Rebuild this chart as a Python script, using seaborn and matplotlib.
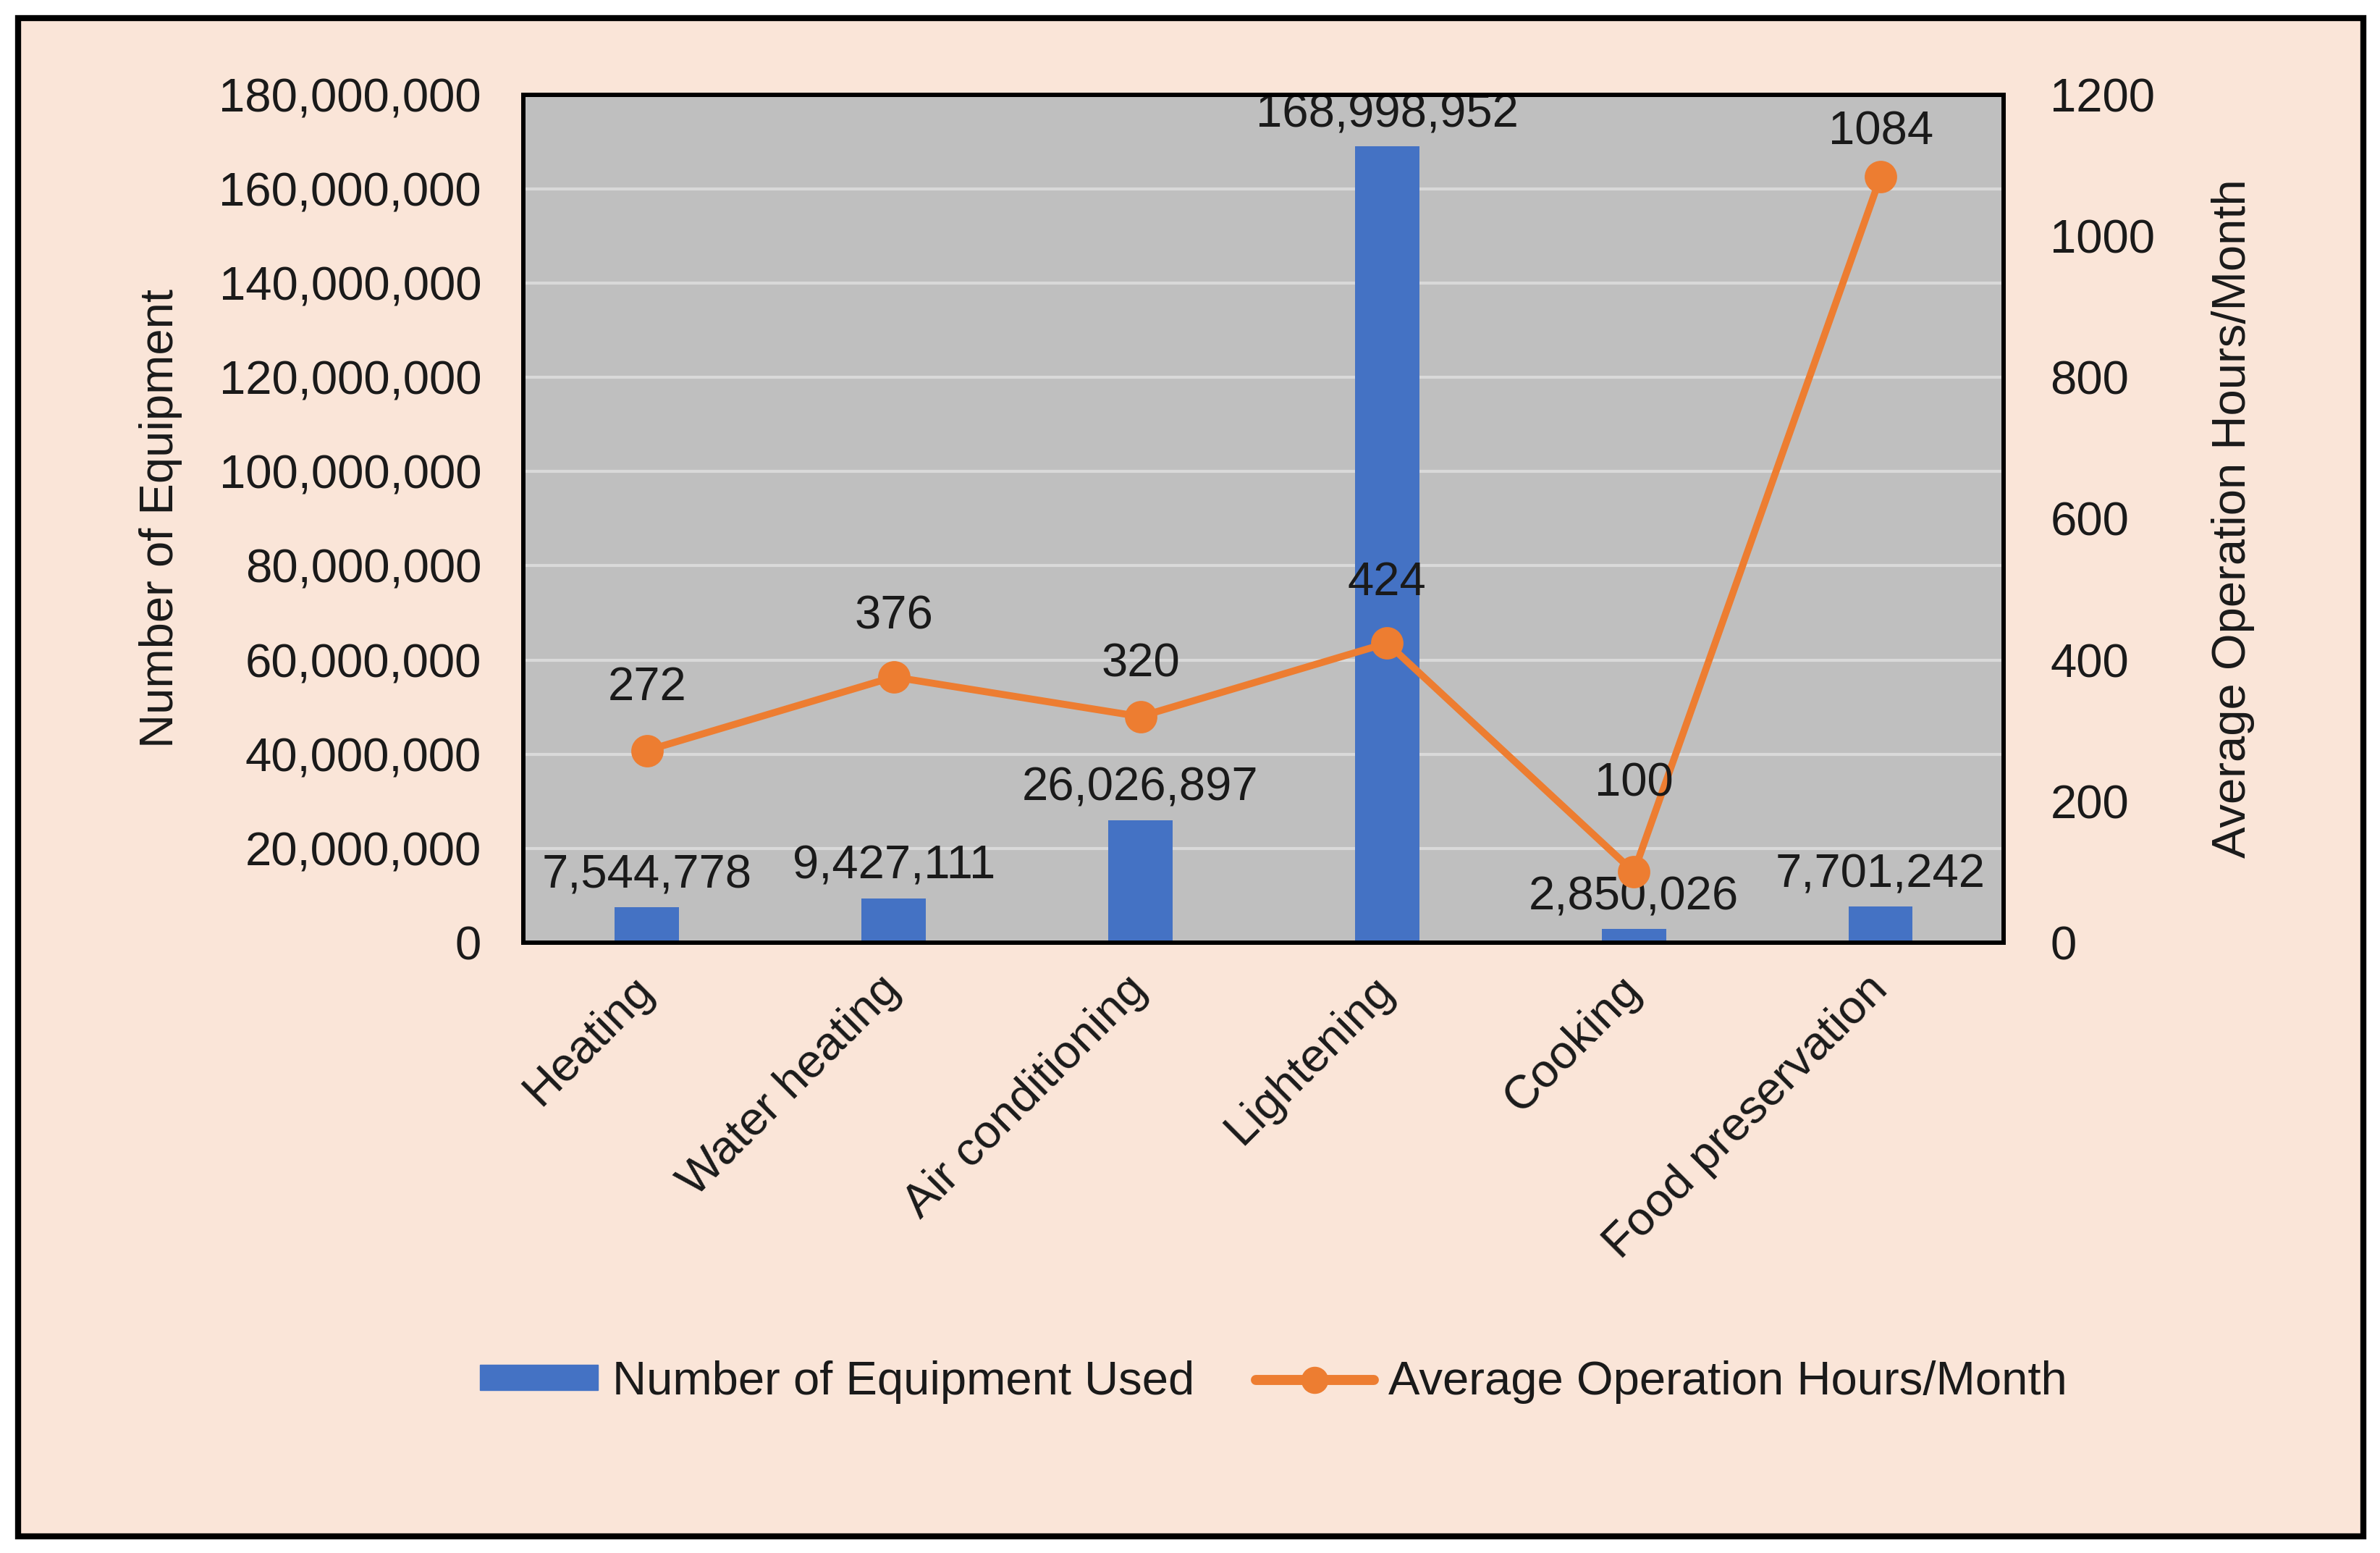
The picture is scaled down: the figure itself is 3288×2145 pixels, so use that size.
import pandas as pd
import seaborn as sns
import matplotlib.pyplot as plt
from matplotlib.patches import Patch, Rectangle
from matplotlib.lines import Line2D
from matplotlib.ticker import MultipleLocator, StrMethodFormatter

# DATA ----------------------------------------------------------------------------
categories = ["Heating", "Water heating", "Air conditioning", "Lightening",
              "Cooking", "Food preservation"]
equipment_used = [7544778, 9427111, 26026897, 168998952, 2850026, 7701242]
operation_hours = [272, 376, 320, 424, 100, 1084]

df = pd.DataFrame({"category": categories,
                   "equipment": equipment_used,
                   "hours": operation_hours})

# STYLE ---------------------------------------------------------------------------
sns.set_style("white")
plt.rcParams['font.family'] = ['Liberation Sans', 'DejaVu Sans']

BLUE = "#4472C4"
ORANGE = "#ED7D31"
PEACH = "#FAE5D8"
PLOT_BG = "#BFBFBF"
GRID = "#D9D9D9"
TXT = "#1A1A1A"
FS = 47

# offsets (points) of the hour labels above the points
label_offsets = [62, 60, 52, 60, 88, 44]

# FIGURE --------------------------------------------------------------------------
fig = plt.figure(figsize=(32.88, 21.45), dpi=100, facecolor="white")
fig.patches.append(Rectangle((0.0076, 0.0107), 0.9854, 0.9776,
                             transform=fig.transFigure, facecolor=PEACH,
                             edgecolor="black", linewidth=6, zorder=-10))

ax = fig.add_axes([0.22, 0.393, 0.622, 0.546])
sns.barplot(data=df, x="category", y="equipment", order=categories,
            color=BLUE, saturation=1, width=0.26, linewidth=0, ax=ax)
ax.set_facecolor(PLOT_BG)
ax.set_ylim(0, 180_000_000)
ax.yaxis.set_major_locator(MultipleLocator(20_000_000))
ax.yaxis.set_major_formatter(StrMethodFormatter("{x:,.0f}"))
ax.grid(axis="y", color=GRID, linewidth=3)
ax.set_axisbelow(True)
ax.bar_label(ax.containers[0], labels=[f"{v:,}" for v in equipment_used],
             padding=10, fontsize=FS, color=TXT)

# line on the secondary axis
ax2 = ax.twinx()
sns.pointplot(data=df, x="category", y="hours", order=categories,
              color=ORANGE, markers="o", errorbar=None,
              markersize=27, linewidth=7, ax=ax2)
ax2.set_ylim(0, 1200)
ax2.yaxis.set_major_locator(MultipleLocator(200))
ax2.grid(False)
for i, v in enumerate(operation_hours):
    ax2.annotate(str(v), (i, v), xytext=(0, label_offsets[i]),
                 textcoords="offset points", ha="center", va="center",
                 fontsize=FS, color=TXT)

ax.set_xlim(-0.5, len(categories) - 0.5)

# axes text
ax.set_xlabel("")
ax.set_ylabel("Number of Equipment", fontsize=FS, color=TXT, labelpad=36)
ax2.set_ylabel("Average Operation Hours/Month", fontsize=FS, color=TXT,
               labelpad=56)
ax.tick_params(axis="y", length=0, pad=42, labelsize=FS, labelcolor=TXT)
ax2.tick_params(axis="y", length=0, pad=46, labelsize=FS, labelcolor=TXT)
ax.tick_params(axis="x", length=0, pad=40, labelsize=FS, labelcolor=TXT)
plt.setp(ax.get_xticklabels(), rotation=45, ha="right", va="center",
         rotation_mode="anchor")

for a in (ax, ax2):
    for s in a.spines.values():
        s.set_color("black")
        s.set_linewidth(4.3)

# legend
handles = [Patch(facecolor=BLUE, edgecolor=BLUE),
           Line2D([0], [0], color=ORANGE, linewidth=10, marker="o",
                  markersize=26)]
fig.legend(handles, ["Number of Equipment Used", "Average Operation Hours/Month"],
           loc="center", bbox_to_anchor=(0.535, 0.11), ncol=2, frameon=False,
           fontsize=FS, handlelength=2.5, handleheight=0.45,
           handletextpad=0.3, columnspacing=1.3, labelcolor=TXT)

fig.savefig("out.png", dpi=100, facecolor=fig.get_facecolor())
